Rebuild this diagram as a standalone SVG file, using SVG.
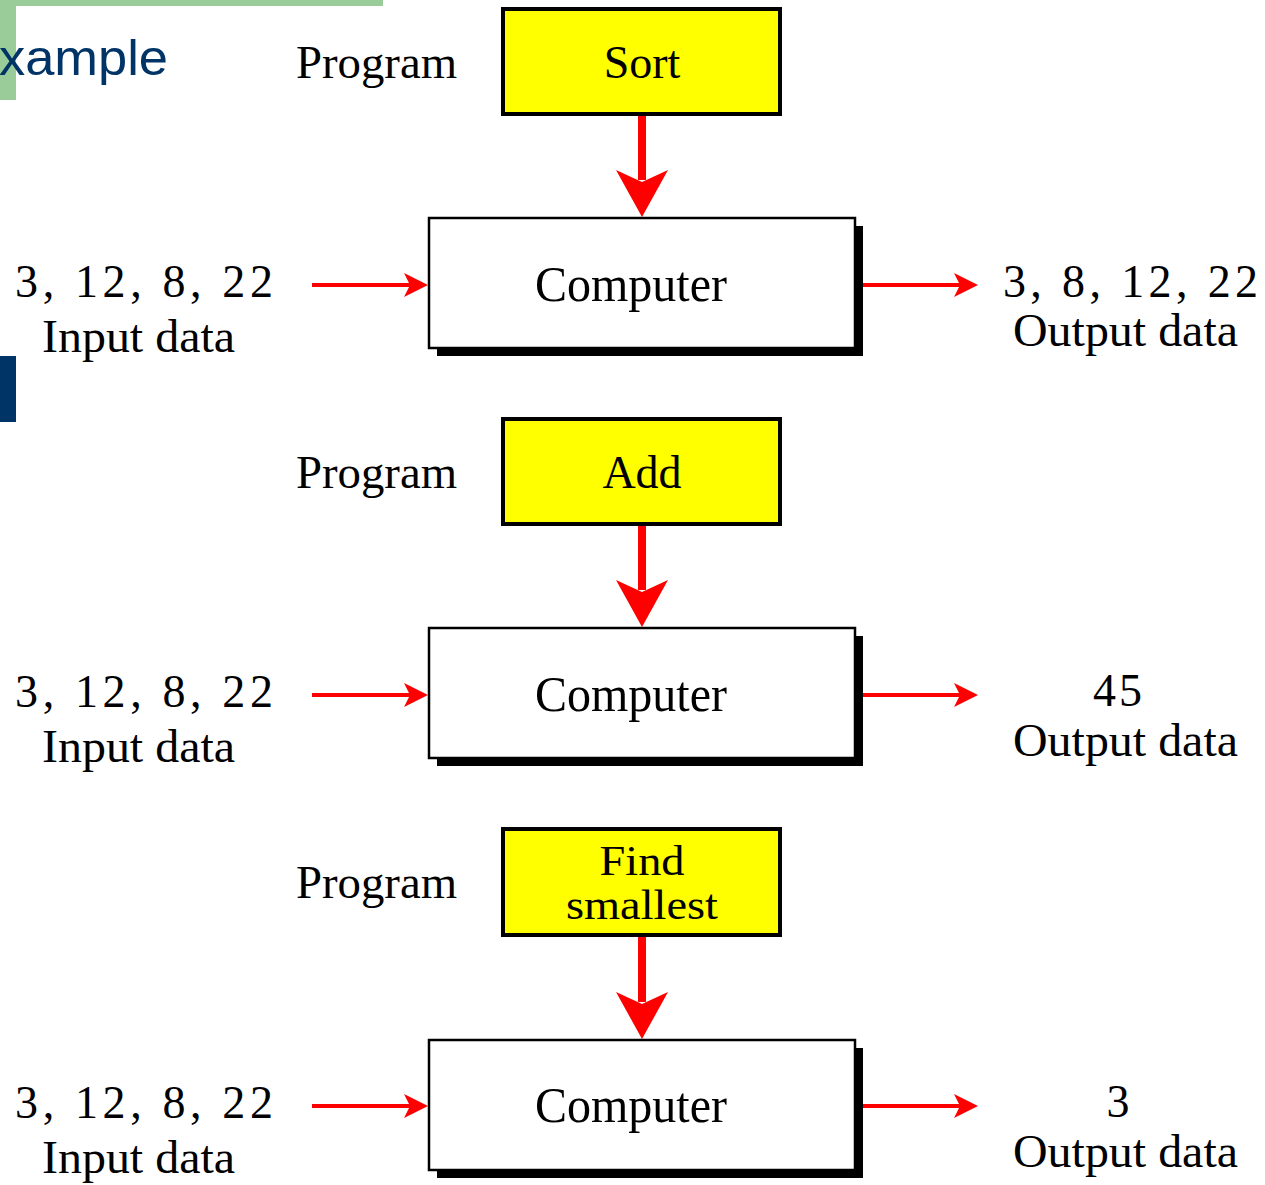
<svg xmlns="http://www.w3.org/2000/svg" width="1265" height="1185" viewBox="0 0 1265 1185">
<defs>
<style>
.t{font-family:"Liberation Serif","Times New Roman",serif;fill:#000}
.prog{fill:#ffff00;stroke:#000;stroke-width:4}
.comp{fill:#fff;stroke:#000;stroke-width:2.5}
.shadow{fill:#000}
.thick{stroke:#ff0000;stroke-width:8;fill:none}
.thin{stroke:#ff0000;stroke-width:4;fill:none}
.head{fill:#ff0000}
</style>
</defs>
<rect width="1265" height="1185" fill="#fff"/>
<g id="decor">
<rect x="0" y="0" width="383" height="6" fill="#99cc99"/>
<rect x="0" y="0" width="16" height="100" fill="#99cc99"/>
<rect x="0" y="356" width="16" height="66" fill="#003366"/>
<text x="-1" y="75" font-family="Liberation Sans, Arial, sans-serif" font-size="50" fill="#003366" textLength="169" lengthAdjust="spacingAndGlyphs">xample</text>
</g>
<g id="connectors">
<line class="thick" x1="642" y1="115" x2="642" y2="180"/>
<path class="head" d="M616,170 L642,217 L668,170 L642,182 Z"/>
<line class="thin" x1="312" y1="285" x2="412" y2="285"/>
<path class="head" d="M404,273 L428,285 L404,297 L410,285 Z"/>
<line class="thin" x1="862" y1="285" x2="962" y2="285"/>
<path class="head" d="M954,273 L978,285 L954,297 L960,285 Z"/>

<line class="thick" x1="642" y1="525" x2="642" y2="590"/>
<path class="head" d="M616,580 L642,627 L668,580 L642,592 Z"/>
<line class="thin" x1="312" y1="695" x2="412" y2="695"/>
<path class="head" d="M404,683 L428,695 L404,707 L410,695 Z"/>
<line class="thin" x1="862" y1="695" x2="962" y2="695"/>
<path class="head" d="M954,683 L978,695 L954,707 L960,695 Z"/>

<line class="thick" x1="642" y1="936" x2="642" y2="1002"/>
<path class="head" d="M616,992 L642,1039 L668,992 L642,1004 Z"/>
<line class="thin" x1="312" y1="1106" x2="412" y2="1106"/>
<path class="head" d="M404,1094 L428,1106 L404,1118 L410,1106 Z"/>
<line class="thin" x1="862" y1="1106" x2="962" y2="1106"/>
<path class="head" d="M954,1094 L978,1106 L954,1118 L960,1106 Z"/>
</g>
<g id="sort">
<rect class="prog" x="503" y="9" width="277" height="105"/>
<text class="t" x="642" y="78" font-size="46" text-anchor="middle">Sort</text>
</g>
<g id="computer1">
<rect class="shadow" x="437" y="226" width="426" height="130"/>
<rect class="comp" x="429" y="218" width="426" height="130"/>
<text class="t" x="631" y="301" font-size="50" text-anchor="middle" textLength="192" lengthAdjust="spacingAndGlyphs">Computer</text>
</g>
<g id="labels1">
<text class="t" x="296" y="78" font-size="46" textLength="161" lengthAdjust="spacingAndGlyphs">Program</text>
<text class="t" x="15" y="297" font-size="46" textLength="258" lengthAdjust="spacing">3, 12, 8, 22</text>
<text class="t" x="42" y="352" font-size="46" textLength="193" lengthAdjust="spacingAndGlyphs">Input data</text>
<text class="t" x="1003" y="297" font-size="46" textLength="255" lengthAdjust="spacing">3, 8, 12, 22</text>
<text class="t" x="1013" y="346" font-size="46" textLength="225" lengthAdjust="spacingAndGlyphs">Output data</text>
</g>
<g id="add">
<rect class="prog" x="503" y="419" width="277" height="105"/>
<text class="t" x="642" y="488" font-size="46" text-anchor="middle">Add</text>
</g>
<g id="computer2">
<rect class="shadow" x="437" y="636" width="426" height="130"/>
<rect class="comp" x="429" y="628" width="426" height="130"/>
<text class="t" x="631" y="711" font-size="50" text-anchor="middle" textLength="192" lengthAdjust="spacingAndGlyphs">Computer</text>
</g>
<g id="labels2">
<text class="t" x="296" y="488" font-size="46" textLength="161" lengthAdjust="spacingAndGlyphs">Program</text>
<text class="t" x="15" y="707" font-size="46" textLength="258" lengthAdjust="spacing">3, 12, 8, 22</text>
<text class="t" x="42" y="762" font-size="46" textLength="193" lengthAdjust="spacingAndGlyphs">Input data</text>
<text class="t" x="1119" y="706" font-size="46" text-anchor="middle" letter-spacing="3">45</text>
<text class="t" x="1013" y="756" font-size="46" textLength="225" lengthAdjust="spacingAndGlyphs">Output data</text>
</g>
<g id="findsmallest">
<rect class="prog" x="503" y="829" width="277" height="106"/>
<text class="t" x="642" y="875" font-size="42" text-anchor="middle" textLength="85" lengthAdjust="spacingAndGlyphs">Find</text>
<text class="t" x="642" y="919" font-size="42" text-anchor="middle" textLength="152" lengthAdjust="spacingAndGlyphs">smallest</text>
</g>
<g id="computer3">
<rect class="shadow" x="437" y="1048" width="426" height="130"/>
<rect class="comp" x="429" y="1040" width="426" height="130"/>
<text class="t" x="631" y="1122" font-size="50" text-anchor="middle" textLength="192" lengthAdjust="spacingAndGlyphs">Computer</text>
</g>
<g id="labels3">
<text class="t" x="296" y="898" font-size="46" textLength="161" lengthAdjust="spacingAndGlyphs">Program</text>
<text class="t" x="15" y="1118" font-size="46" textLength="258" lengthAdjust="spacing">3, 12, 8, 22</text>
<text class="t" x="42" y="1173" font-size="46" textLength="193" lengthAdjust="spacingAndGlyphs">Input data</text>
<text class="t" x="1118" y="1117" font-size="46" text-anchor="middle">3</text>
<text class="t" x="1013" y="1167" font-size="46" textLength="225" lengthAdjust="spacingAndGlyphs">Output data</text>
</g>
</svg>
